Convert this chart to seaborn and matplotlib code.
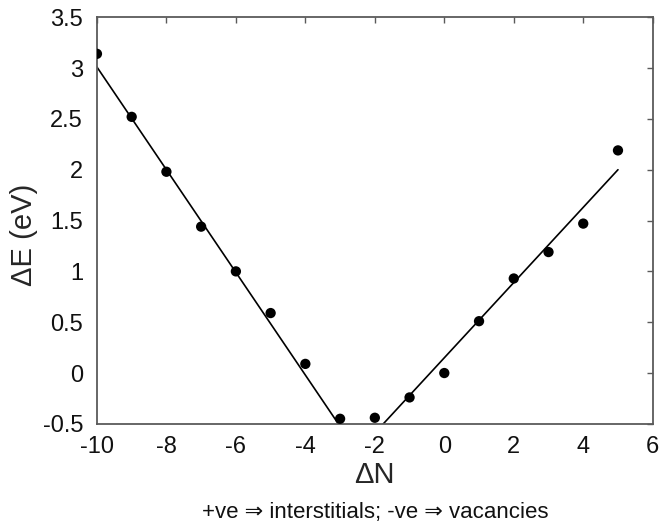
import numpy as np
import pandas as pd
import matplotlib
matplotlib.use("Agg")
import matplotlib.pyplot as plt
import seaborn as sns

# Formation energy vs. change in atom count
dN = [-10, -9, -8, -7, -6, -5, -4, -3, -2, -1, 0, 1, 2, 3, 4, 5]
dE = [3.14, 2.52, 1.98, 1.44, 1.00, 0.59, 0.09, -0.45,
      -0.44, -0.24, 0.00, 0.51, 0.93, 1.19, 1.47, 2.19]

# Linear fits (slope, intercept) for the vacancy and interstitial branches
vac_fit = [-0.505, -2.04]
int_fit = [0.37, 0.15]
vac_x = [-10, -3]
int_x = [-2, 5]

x_ticks = [-10, -8, -6, -4, -2, 0, 2, 4, 6]
y_ticks = [-0.5, 0, 0.5, 1, 1.5, 2, 2.5, 3, 3.5]
y_tick_labels = ["-0.5", "0", "0.5", "1", "1.5", "2", "2.5", "3", "3.5"]

sns.set_style("white")
plt.rcParams["font.family"] = ["Liberation Sans", "DejaVu Sans"]

fig = plt.figure(figsize=(6.64, 5.22), dpi=100)
ax = fig.add_axes([0.146, 0.188, 0.837, 0.779])

pts = pd.DataFrame({"dN": dN, "dE": dE})
sns.scatterplot(data=pts, x="dN", y="dE", ax=ax, color="black", s=55,
                edgecolor="none", zorder=3)

for fit, xr in [(vac_fit, vac_x), (int_fit, int_x)]:
    xs = np.array(xr, dtype=float)
    line = pd.DataFrame({"x": xs, "y": fit[0] * xs + fit[1]})
    sns.lineplot(data=line, x="x", y="y", ax=ax, color="black", lw=1.2)

ax.set_xlim(-10, 6)
ax.set_ylim(-0.5, 3.5)
ax.set_xticks(x_ticks)
ax.set_xticklabels([str(v) for v in x_ticks])
ax.set_yticks(y_ticks)
ax.set_yticklabels(y_tick_labels)

spine_col = "#5a5a5a"
for s in ax.spines.values():
    s.set_color(spine_col)
    s.set_linewidth(1.3)
ax.tick_params(direction="in", length=4, width=1, color=spine_col,
               top=True, right=True, labelsize=17, labelcolor="#111111")
ax.tick_params(axis="x", pad=9)
ax.tick_params(axis="y", pad=10)

ax.set_xlabel("ΔN", fontsize=21)
ax.xaxis.set_label_coords(0.5, -0.092)
ax.set_ylabel("ΔE (eV)", fontsize=21)
ax.yaxis.set_label_coords(-0.106, 0.465)
fig.text(0.565, 0.0075, "+ve ⇒ interstitials; -ve ⇒ vacancies",
         ha="center", va="baseline", fontsize=16, color="#111111")

fig.savefig("out.png", dpi=100)
